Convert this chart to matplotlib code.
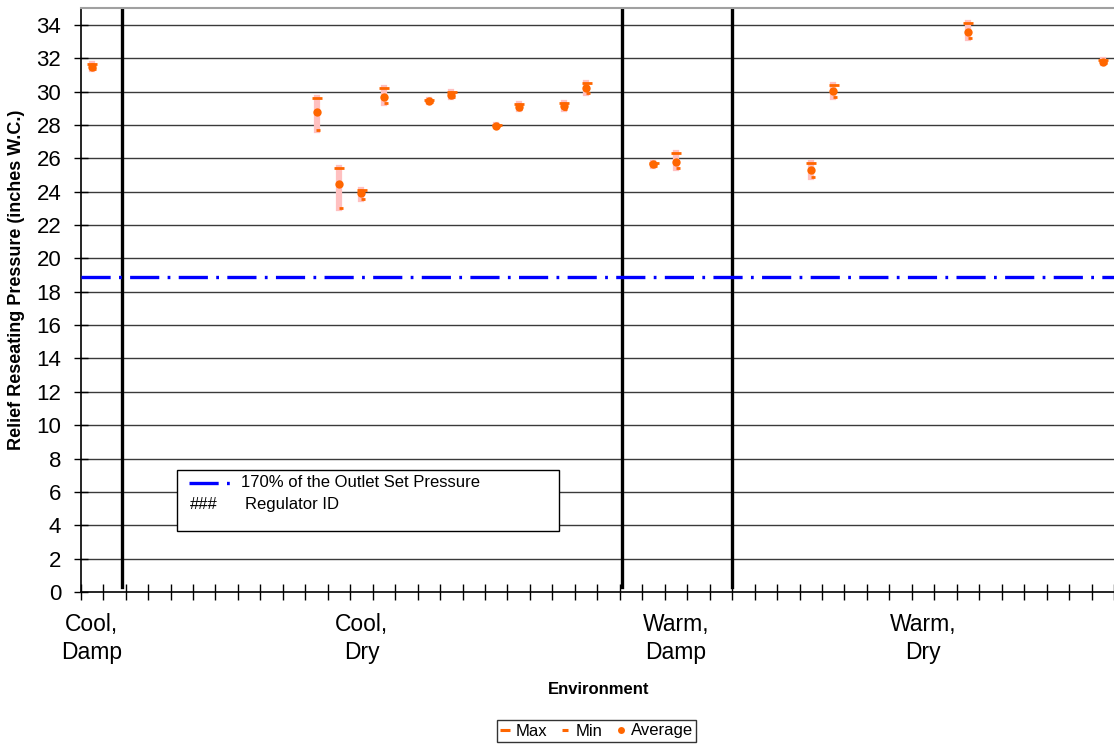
import matplotlib
matplotlib.use("Agg")
import matplotlib.pyplot as plt
from matplotlib.lines import Line2D
from matplotlib.patches import Rectangle

plt.rcParams['font.family'] = ['Liberation Sans', 'DejaVu Sans']
plt.rcParams['lines.scale_dashes'] = False

ORANGE = '#FF6600'
PINK = '#FFC0C0'

# 46 category slots on the x axis; only a few carry a label
N_CATEGORIES = 46
labelPositions = [0, 12, 26, 37]
labelTexts = ["Cool,\nDamp", "Cool,\nDry", "Warm,\nDamp", "Warm,\nDry"]
separators = [1.34, 23.58, 28.49]

# regulator readings (category index, max, min, average)
regIndex = [0, 10, 11, 12, 13, 15, 16, 18, 19, 21, 22, 25, 26, 32, 33, 39, 45]
regMax = [31.65, 29.6, 25.45, 24.1, 30.2, 29.5, 29.95, 28.0, 29.25, 29.3, 30.5,
          25.75, 26.3, 25.7, 30.4, 34.1, 31.9]
regMin = [31.35, 27.7, 23.0, 23.55, 29.3, 29.4, 29.65, 27.92, 28.95, 28.95, 29.9,
          25.55, 25.4, 24.9, 29.7, 33.2, 31.7]
regAvg = [31.5, 28.8, 24.45, 23.95, 29.7, 29.45, 29.8, 27.95, 29.1, 29.15, 30.2,
          25.65, 25.8, 25.3, 30.05, 33.55, 31.8]

setPressureLimit = 18.9

fig = plt.figure(figsize=(11.14, 7.45), dpi=100)
ax = fig.add_axes([0.0724, 0.2054, 0.9276, 0.7835])

ax.set_xlim(-0.5, N_CATEGORIES - 0.5)
ax.set_ylim(0, 35)

# horizontal grid
for v in range(2, 35, 2):
    ax.axhline(v, color='#3a3a3a', linewidth=1.0, zorder=1)

# environment separators
for s in separators:
    ax.axvline(s, ymin=0.3 / 35, ymax=1, color='black', linewidth=2.4, zorder=2)

# outlet set pressure line
ax.axhline(setPressureLimit, color='#0000FF', linewidth=2.4,
           dashes=(21, 6, 2, 6), zorder=3)

# ranges and markers
ax.vlines(regIndex, regMin, regMax, colors=PINK, linewidth=4.5, zorder=4,
          capstyle='projecting')
ax.plot([i + 0.02 for i in regIndex], regMax, linestyle='none', marker='_',
        markersize=6.5, markeredgewidth=2.0, color=ORANGE, zorder=5)
ax.plot([i + 0.08 for i in regIndex], regMin, linestyle='none', marker='_',
        markersize=3.5, markeredgewidth=2.0, color=ORANGE, zorder=5)
ax.plot(regIndex, regAvg, linestyle='none', marker='o', markersize=6,
        markeredgewidth=0, color=ORANGE, zorder=6)

# axes styling
ax.set_yticks(range(0, 35, 2))
ax.tick_params(axis='y', direction='inout', length=10, width=1, labelsize=16, pad=9)
ax.set_xticks([k - 0.5 for k in range(N_CATEGORIES + 1)])
ax.set_xticklabels([])
ax.tick_params(axis='x', which='major', direction='inout', length=11, width=1)
ax.set_xticks(labelPositions, minor=True)
ax.set_xticklabels(labelTexts, minor=True, fontsize=16.5, linespacing=1.3)
ax.tick_params(axis='x', which='minor', length=0, pad=15)

ax.spines['left'].set_linewidth(1.2)
ax.spines['bottom'].set_linewidth(1.2)
ax.spines['top'].set_color('#a0a0a0')
ax.spines['top'].set_linewidth(1.5)
ax.spines['right'].set_visible(False)

ax.set_ylabel("Relief Reseating Pressure (inches W.C.)", fontsize=13,
              fontweight='bold')
ax.yaxis.set_label_coords(-0.054, 0.535)
fig.text(0.537, 1 - 689 / 745, "Environment", fontsize=12, fontweight='bold',
         ha='center', va='center')

# inner legend box
ax.add_patch(Rectangle((0.0932, 0.1045), 0.3698, 0.1045, transform=ax.transAxes,
                       facecolor='white', edgecolor='black', linewidth=1, zorder=7))
ax.add_line(Line2D([0.1048, 0.1445], [0.187, 0.187], transform=ax.transAxes,
                   color='#0000FF', linewidth=2.4, dashes=(21, 6, 2, 6), zorder=8))
ax.text(0.155, 0.187, "170% of the Outlet Set Pressure", transform=ax.transAxes,
        fontsize=12, va='center', ha='left', zorder=8)
ax.text(0.106, 0.15, "###", transform=ax.transAxes, fontsize=12,
        va='center', ha='left', zorder=8)
ax.text(0.159, 0.15, "Regulator ID", transform=ax.transAxes, fontsize=12,
        va='center', ha='left', zorder=8)

# bottom legend
handles = [
    Line2D([], [], linestyle='none', marker='_', markersize=6.5,
           markeredgewidth=2.2, color=ORANGE),
    Line2D([], [], linestyle='none', marker='_', markersize=4,
           markeredgewidth=2.2, color=ORANGE),
    Line2D([], [], linestyle='none', marker='o', markersize=5,
           markeredgewidth=0, color=ORANGE),
]
leg = fig.legend(handles, ["Max", "Min", "Average"], loc='center',
                 bbox_to_anchor=(0.5355, 1 - 731 / 745), ncol=3, fontsize=12,
                 frameon=True, fancybox=False, edgecolor='black',
                 handlelength=0.6, handletextpad=0.3, columnspacing=0.8,
                 borderpad=0.2)
leg.get_frame().set_linewidth(1)

fig.savefig("out.png", dpi=100)
